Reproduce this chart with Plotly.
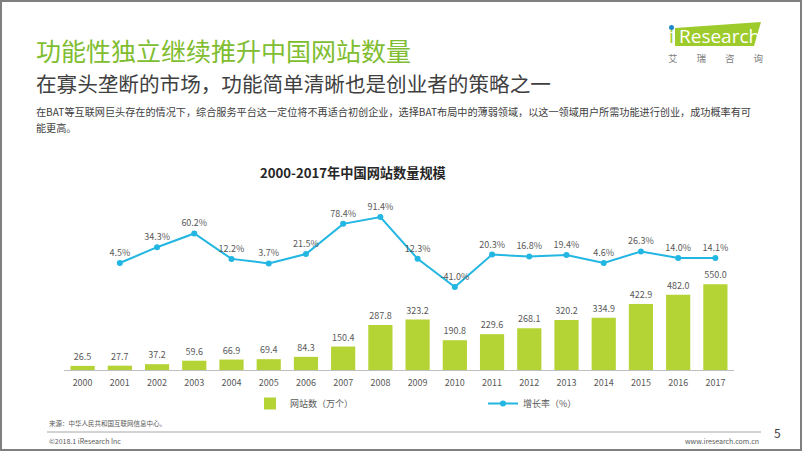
import plotly.graph_objects as go

years = ["2000", "2001", "2002", "2003", "2004", "2005", "2006", "2007", "2008",
         "2009", "2010", "2011", "2012", "2013", "2014", "2015", "2016", "2017"]
sites = [26.5, 27.7, 37.2, 59.6, 66.9, 69.4, 84.3, 150.4, 287.8,
         323.2, 190.8, 229.6, 268.1, 320.2, 334.9, 422.9, 482.0, 550.0]
growth_years = ["2001", "2002", "2003", "2004", "2005", "2006", "2007", "2008", "2009",
                "2010", "2011", "2012", "2013", "2014", "2015", "2016", "2017"]
growth = [4.5, 34.3, 60.2, 12.2, 3.7, 21.5, 78.4, 91.4, 12.3,
          -41.0, 20.3, 16.8, 19.4, 4.6, 26.3, 14.0, 14.1]

W, H = 802, 451
L, R, T, B = 64, 68, 180, 81
PW, PH = W - L - R, H - T - B

def px(x):
    return (x - L) / PW

def py(y):
    return (H - B - y) / PH

FONT = "Noto Sans CJK SC"
BAR_COLOR = "#B4D334"
LINE_COLOR = "#22B6E3"
LABEL = "#595959"

fig = go.Figure()
fig.add_trace(go.Bar(
    x=years, y=sites, name="网站数（万个）",
    marker=dict(color=BAR_COLOR, line=dict(width=0)),
    text=[f"{v:.1f}" for v in sites], textposition="outside",
    textfont=dict(size=9, color=LABEL, family=FONT),
    cliponaxis=False, yaxis="y",
))
fig.add_trace(go.Scatter(
    x=growth_years, y=growth, name="增长率（%）",
    mode="lines+markers+text",
    line=dict(color=LINE_COLOR, width=2),
    marker=dict(color=LINE_COLOR, size=6),
    text=[f"{v:.1f}%" for v in growth], textposition="top center",
    textfont=dict(size=9, color=LABEL, family=FONT),
    cliponaxis=False, yaxis="y2",
))

def ann(text, x, y, size, color, xanchor="left", family=FONT):
    return dict(text=text, x=px(x), y=py(y), xref="paper", yref="paper",
                xanchor=xanchor, yanchor="middle", showarrow=False,
                font=dict(size=size, color=color, family=family))

annotations = [
    ann("功能性独立继续推升中国网站数量", 34, 50, 25, "#80BD30"),
    ann("在寡头垄断的市场，功能简单清晰也是创业者的策略之一", 34, 83, 20.6, "#404040"),
    ann("在BAT等互联网巨头存在的情况下，综合服务平台这一定位将不再适合初创企业，选择BAT布局中的薄弱领域，以这一领域用户所需功能进行创业，成功概率有可",
        34, 111, 10.15, "#404040"),
    ann("能更高。", 34, 127, 10.15, "#404040"),
    ann("<b>2000-2017年中国网站数量规模</b>", 353, 172, 13.2, "#262626", "center"),
    ann("Research", 677, 36, 19, "#FFFFFF", "left", "Open Sans"),
    ann("i", 667, 36, 19, "#9DCB2B", "left", "Open Sans"),
    ann("艾　　瑞　　咨　　询", 715, 58, 9.5, "#808080", "center"),
    ann("来源：中华人民共和国互联网信息中心。", 47, 423, 6.5, "#595959"),
    ann("©2018.1 iResearch Inc", 47, 441, 7, "#595959"),
    ann("www.iresearch.com.cn", 761, 441, 7, "#595959", "right"),
    ann("5", 777, 432, 12, "#404040", "center"),
]

def path(points):
    return "M " + " L ".join(f"{px(a)},{py(b)}" for a, b in points) + " Z"

shapes = [
    dict(type="path", xref="paper", yref="paper",
         path=path([(675, 28), (761, 22), (754, 46), (675, 46)]),
         fillcolor="#9DCB2B", line=dict(width=0), layer="below"),
    dict(type="circle", xref="paper", yref="paper",
         x0=px(669), x1=px(674), y0=py(30), y1=py(25),
         fillcolor="#1E88C8", line=dict(width=0)),
    dict(type="line", xref="paper", yref="paper", x0=px(47), x1=px(761), y0=py(432), y1=py(432),
         line=dict(color="#A6A6A6", width=1)),
    dict(type="rect", xref="paper", yref="paper", x0=px(1), x1=px(801), y0=py(1), y1=py(450),
         line=dict(color="#7F7F7F", width=2)),
]

fig.update_layout(
    width=W, height=H,
    margin=dict(l=L, r=R, t=T, b=B, pad=0, autoexpand=False),
    paper_bgcolor="white", plot_bgcolor="white",
    font=dict(family=FONT, color=LABEL, size=9),
    bargap=0.35,
    showlegend=True,
    legend=dict(orientation="h", x=px(250), y=py(389), xanchor="left", yanchor="top",
                entrywidth=188, entrywidthmode="pixels",
                font=dict(size=9, color=LABEL, family=FONT), itemwidth=30,
                bgcolor="rgba(0,0,0,0)"),
    xaxis=dict(type="category", range=[-0.5, 17.5], showgrid=False, showline=True,
               linecolor="#BFBFBF", linewidth=1,
               ticks="", tickfont=dict(size=9, color=LABEL, family=FONT), zeroline=False,
               automargin=False, ticklabelstandoff=4),
    yaxis=dict(range=[0, 1218], visible=False, showgrid=False, zeroline=False),
    yaxis2=dict(range=[-197.8, 161.3], overlaying="y", visible=False, showgrid=False, zeroline=False),
    annotations=annotations,
    shapes=shapes,
)

fig.write_html("out.html", config={"displayModeBar": False},
               post_script="document.body.style.margin='0';document.body.style.overflow='hidden';")
